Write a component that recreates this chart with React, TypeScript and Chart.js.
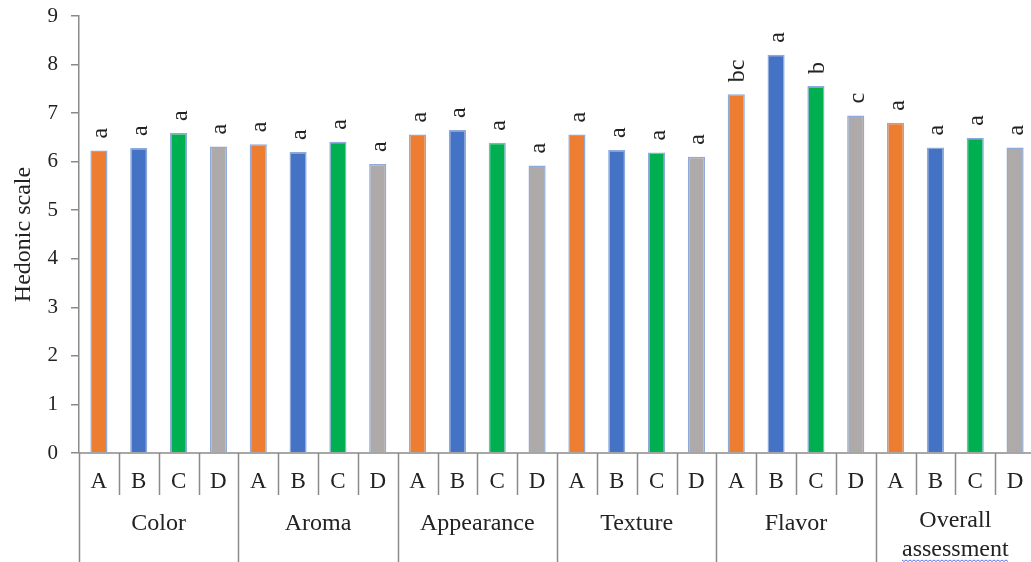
import React, { useEffect, useRef } from "react";
import { Chart, registerables } from "chart.js";

Chart.register(...registerables);

const groups = ["Color", "Aroma", "Appearance", "Texture", "Flavor", "Overall assessment"];
const samples = ["A", "B", "C", "D"];
const sampleColors = ["#ED7D31", "#4472C4", "#00B050", "#AEAAAA"];

const valuesA = [6.23, 6.36, 6.56, 6.56, 7.39, 6.8];
const valuesB = [6.28, 6.2, 6.65, 6.24, 8.2, 6.29];
const valuesC = [6.59, 6.41, 6.39, 6.19, 7.56, 6.49];
const valuesD = [6.31, 5.95, 5.92, 6.1, 6.95, 6.29];

const lettersA = ["a", "a", "a", "a", "bc", "a"];
const lettersB = ["a", "a", "a", "a", "a", "a"];
const lettersC = ["a", "a", "a", "a", "b", "a"];
const lettersD = ["a", "a", "a", "a", "c", "a"];

const yTicks = [0, 1, 2, 3, 4, 5, 6, 7, 8, 9];

const AXIS = "#8A8A8A";
const TEXT = "#222222";
const SERIF = "'Liberation Serif', 'Times New Roman', serif";

export default function App() {
  const ref = useRef<HTMLCanvasElement | null>(null);

  useEffect(() => {
    if (!ref.current) return;
    const seriesVals = [valuesA, valuesB, valuesC, valuesD];
    const seriesLetters = [lettersA, lettersB, lettersC, lettersD];
    const labels: string[] = [];
    const data: number[] = [];
    const colors: string[] = [];
    const letters: string[] = [];
    groups.forEach((g, gi) => {
      samples.forEach((s, si) => {
        labels.push(g + " " + s);
        data.push(seriesVals[si][gi]);
        colors.push(sampleColors[si]);
        letters.push(seriesLetters[si][gi]);
      });
    });

    const annotate = {
      id: "annotate",
      afterDatasetsDraw(chart: any) {
        const ctx = chart.ctx;
        const meta = chart.getDatasetMeta(0);
        ctx.save();
        ctx.fillStyle = TEXT;
        ctx.font = "24px " + SERIF;
        ctx.textAlign = "left";
        ctx.textBaseline = "alphabetic";
        meta.data.forEach((bar: any, i: number) => {
          ctx.save();
          ctx.translate(bar.x + 8, bar.y - 12);
          ctx.rotate(-Math.PI / 2);
          ctx.fillText(letters[i], 0, 0);
          ctx.restore();
        });
        ctx.restore();
      },
      afterDraw(chart: any) {
        const ctx = chart.ctx;
        const area = chart.chartArea;
        const xs = chart.scales.x;
        const n = labels.length;
        const w = (area.right - area.left) / n;
        const bottom = area.bottom;
        ctx.save();
        ctx.strokeStyle = AXIS;
        ctx.lineWidth = 1.5;
        ctx.beginPath();
        ctx.moveTo(area.left, bottom);
        ctx.lineTo(area.right, bottom);
        ctx.stroke();
        for (let i = 0; i <= n; i++) {
          const x = Math.round(area.left + i * w) + 0.5;
          const isGroup = i % samples.length === 0;
          ctx.beginPath();
          ctx.moveTo(x, bottom);
          ctx.lineTo(x, isGroup ? chart.height : bottom + 42);
          ctx.stroke();
        }
        ctx.fillStyle = TEXT;
        ctx.textAlign = "center";
        ctx.textBaseline = "middle";
        ctx.font = "23px " + SERIF;
        for (let i = 0; i < n; i++) {
          const x = xs.getPixelForValue(i);
          ctx.fillText(samples[i % samples.length], x, bottom + 29);
        }
        ctx.font = "24px " + SERIF;
        groups.forEach((g, gi) => {
          const x0 = area.left + gi * samples.length * w;
          const cx = x0 + (samples.length * w) / 2;
          const words = g.split(" ");
          if (words.length === 1) {
            ctx.fillText(g, cx, bottom + 71);
          } else {
            ctx.fillText(words[0], cx, bottom + 68);
            const second = words.slice(1).join(" ");
            ctx.fillText(second, cx, bottom + 97);
            const tw = ctx.measureText(second).width;
            ctx.save();
            ctx.strokeStyle = "#5B7BE0";
            ctx.lineWidth = 1;
            ctx.beginPath();
            const yb = bottom + 107;
            let up = true;
            const xStart = cx - tw / 2;
            for (let x = xStart; x <= cx + tw / 2; x += 2) {
              const yy = yb + (up ? 0 : 1.5);
              if (x === xStart) ctx.moveTo(x, yy);
              else ctx.lineTo(x, yy);
              up = !up;
            }
            ctx.stroke();
            ctx.restore();
          }
        });
        ctx.restore();
      },
    };

    const chart = new Chart(ref.current, {
      type: "bar",
      data: {
        labels,
        datasets: [
          {
            data,
            backgroundColor: colors,
            borderColor: "#8EAADB",
            borderWidth: 1.5,
            categoryPercentage: 1,
            barPercentage: 0.43,
          },
        ],
      },
      options: {
        responsive: false,
        animation: false,
        layout: { padding: { left: 0, right: 1, top: 16, bottom: 109 } },
        plugins: { legend: { display: false }, tooltip: { enabled: false } },
        scales: {
          x: { display: false },
          y: {
            min: 0,
            max: 9,
            afterBuildTicks(scale: any) {
              scale.ticks = yTicks.map((v) => ({ value: v }));
            },
            afterFit(scale: any) {
              scale.width = 79;
              scale.paddingTop = 0;
              scale.paddingBottom = 0;
            },
            border: { display: true, color: AXIS, width: 1.5 },
            grid: {
              drawOnChartArea: false,
              drawTicks: true,
              tickLength: 8,
              color: AXIS,
              lineWidth: 1.5,
            },
            ticks: {
              padding: 13,
              color: TEXT,
              font: { family: SERIF, size: 21 },
            },
            title: {
              display: true,
              text: "Hedonic scale",
              color: TEXT,
              font: { family: SERIF, size: 24 },
              padding: { top: 9, bottom: 0 },
            },
          },
        },
      },
      plugins: [annotate],
    });
    return () => chart.destroy();
  }, []);

  return (
    <div
      style={{
        position: "fixed",
        left: 0,
        top: 0,
        width: 1031,
        height: 562,
        overflow: "hidden",
        background: "#fff",
      }}
    >
      <canvas ref={ref} width={1036} height={562} style={{ display: "block" }} />
    </div>
  );
}
